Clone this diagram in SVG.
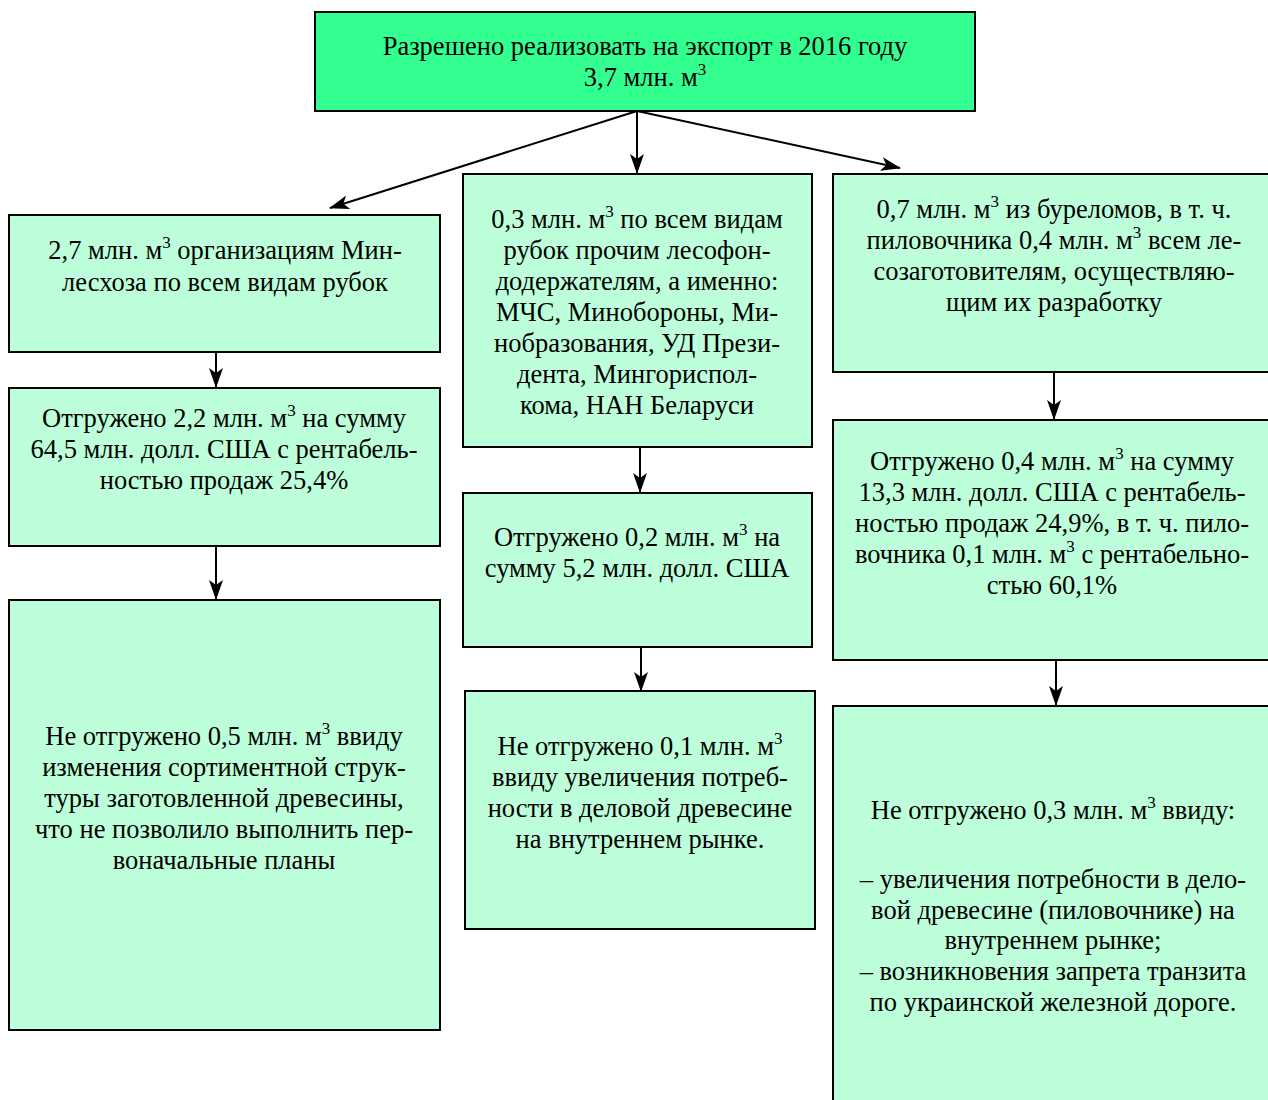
<svg xmlns="http://www.w3.org/2000/svg" width="1268" height="1100" viewBox="0 0 1268 1100">
<style>
.box{fill:#BCFFDA;stroke:#000;stroke-width:2}
.top{fill:#33FF90;stroke:#000;stroke-width:2}
.con{stroke:#000;stroke-width:2;fill:none;marker-end:url(#ah)}
</style>
<defs>
<marker id="ah" markerWidth="20" markerHeight="14" refX="19" refY="7" orient="auto" markerUnits="userSpaceOnUse">
<path d="M0,0 L20,7 L0,14 L5,7 z" fill="#000"/>
</marker>
</defs>
<rect width="1268" height="1100" fill="#fff"/>
<g id="connectors">
<line class="con" x1="637" y1="111" x2="330" y2="208"/>
<line class="con" x1="637" y1="111" x2="637" y2="173"/>
<line class="con" x1="637" y1="111" x2="900" y2="168"/>
<line class="con" x1="216" y1="352" x2="216" y2="387"/>
<line class="con" x1="216" y1="546" x2="216" y2="599"/>
<line class="con" x1="640" y1="447" x2="640" y2="492"/>
<line class="con" x1="641" y1="647" x2="641" y2="691"/>
<line class="con" x1="1054" y1="372" x2="1054" y2="419"/>
<line class="con" x1="1056" y1="660" x2="1056" y2="705"/>
</g>
<g id="top">
<rect class="top" x="315" y="12" width="660" height="99"/>
<text font-family="Liberation Serif, serif" font-size="26.5" text-anchor="middle" x="645" y="55">Разрешено реализовать на экспорт в 2016 году</text>
<text font-family="Liberation Serif, serif" font-size="26.5" text-anchor="middle" x="645" y="86">3,7 млн. м<tspan font-size="17" dy="-11">3</tspan></text>
</g>
<g id="left1">
<rect class="box" x="9" y="215" width="431" height="137"/>
<text font-family="Liberation Serif, serif" font-size="26.5" text-anchor="middle" x="225" y="259">2,7 млн. м<tspan font-size="17" dy="-11">3</tspan><tspan dy="11"> организациям Мин-</tspan></text>
<text font-family="Liberation Serif, serif" font-size="26.5" text-anchor="middle" x="225" y="291">лесхоза по всем видам рубок</text>
</g>
<g id="left2">
<rect class="box" x="9" y="388" width="431" height="158"/>
<text font-family="Liberation Serif, serif" font-size="26.5" text-anchor="middle" x="224" y="427">Отгружено 2,2 млн. м<tspan font-size="17" dy="-11">3</tspan><tspan dy="11"> на сумму</tspan></text>
<text font-family="Liberation Serif, serif" font-size="26.5" text-anchor="middle" x="224" y="458">64,5 млн. долл. США с рентабель-</text>
<text font-family="Liberation Serif, serif" font-size="26.5" text-anchor="middle" x="224" y="489">ностью продаж 25,4%</text>
</g>
<g id="left3">
<rect class="box" x="9" y="600" width="431" height="430"/>
<text font-family="Liberation Serif, serif" font-size="26.5" text-anchor="middle" x="224" y="745">Не отгружено 0,5 млн. м<tspan font-size="17" dy="-11">3</tspan><tspan dy="11"> ввиду</tspan></text>
<text font-family="Liberation Serif, serif" font-size="26.5" text-anchor="middle" x="224" y="776">изменения сортиментной струк-</text>
<text font-family="Liberation Serif, serif" font-size="26.5" text-anchor="middle" x="224" y="807">туры заготовленной древесины,</text>
<text font-family="Liberation Serif, serif" font-size="26.5" text-anchor="middle" x="224" y="838">что не позволило выполнить пер-</text>
<text font-family="Liberation Serif, serif" font-size="26.5" text-anchor="middle" x="224" y="869">воначальные планы</text>
</g>
<g id="mid1">
<rect class="box" x="463" y="174" width="349" height="273"/>
<text font-family="Liberation Serif, serif" font-size="26.5" text-anchor="middle" x="637" y="228">0,3 млн. м<tspan font-size="17" dy="-11">3</tspan><tspan dy="11"> по всем видам</tspan></text>
<text font-family="Liberation Serif, serif" font-size="26.5" text-anchor="middle" x="637" y="259">рубок прочим лесофон-</text>
<text font-family="Liberation Serif, serif" font-size="26.5" text-anchor="middle" x="637" y="290">додержателям, а именно:</text>
<text font-family="Liberation Serif, serif" font-size="26.5" text-anchor="middle" x="637" y="321">МЧС, Минобороны, Ми-</text>
<text font-family="Liberation Serif, serif" font-size="26.5" text-anchor="middle" x="637" y="352">нобразования, УД Прези-</text>
<text font-family="Liberation Serif, serif" font-size="26.5" text-anchor="middle" x="637" y="383">дента, Мингориспол-</text>
<text font-family="Liberation Serif, serif" font-size="26.5" text-anchor="middle" x="637" y="414">кома, НАН Беларуси</text>
</g>
<g id="mid2">
<rect class="box" x="463" y="493" width="349" height="154"/>
<text font-family="Liberation Serif, serif" font-size="26.5" text-anchor="middle" x="637" y="546">Отгружено 0,2 млн. м<tspan font-size="17" dy="-11">3</tspan><tspan dy="11"> на</tspan></text>
<text font-family="Liberation Serif, serif" font-size="26.5" text-anchor="middle" x="637" y="577">сумму 5,2 млн. долл. США</text>
</g>
<g id="mid3">
<rect class="box" x="465" y="691" width="350" height="238"/>
<text font-family="Liberation Serif, serif" font-size="26.5" text-anchor="middle" x="640" y="755">Не отгружено 0,1 млн. м<tspan font-size="17" dy="-11">3</tspan></text>
<text font-family="Liberation Serif, serif" font-size="26.5" text-anchor="middle" x="640" y="786">ввиду увеличения потреб-</text>
<text font-family="Liberation Serif, serif" font-size="26.5" text-anchor="middle" x="640" y="817">ности в деловой древесине</text>
<text font-family="Liberation Serif, serif" font-size="26.5" text-anchor="middle" x="640" y="848">на внутреннем рынке.</text>
</g>
<g id="right1">
<rect class="box" x="833" y="174" width="440" height="198"/>
<text font-family="Liberation Serif, serif" font-size="26.5" text-anchor="middle" x="1054" y="218">0,7 млн. м<tspan font-size="17" dy="-11">3</tspan><tspan dy="11"> из буреломов, в т. ч.</tspan></text>
<text font-family="Liberation Serif, serif" font-size="26.5" text-anchor="middle" x="1054" y="249">пиловочника 0,4 млн. м<tspan font-size="17" dy="-11">3</tspan><tspan dy="11"> всем ле-</tspan></text>
<text font-family="Liberation Serif, serif" font-size="26.5" text-anchor="middle" x="1054" y="280">созаготовителям, осуществляю-</text>
<text font-family="Liberation Serif, serif" font-size="26.5" text-anchor="middle" x="1054" y="311">щим их разработку</text>
</g>
<g id="right2">
<rect class="box" x="833" y="420" width="440" height="240"/>
<text font-family="Liberation Serif, serif" font-size="26.5" text-anchor="middle" x="1052" y="470">Отгружено 0,4 млн. м<tspan font-size="17" dy="-11">3</tspan><tspan dy="11"> на сумму</tspan></text>
<text font-family="Liberation Serif, serif" font-size="26.5" text-anchor="middle" x="1052" y="501">13,3 млн. долл. США с рентабель-</text>
<text font-family="Liberation Serif, serif" font-size="26.5" text-anchor="middle" x="1052" y="532">ностью продаж 24,9%, в т. ч. пило-</text>
<text font-family="Liberation Serif, serif" font-size="26.5" text-anchor="middle" x="1052" y="563">вочника 0,1 млн. м<tspan font-size="17" dy="-11">3</tspan><tspan dy="11"> с рентабельно-</tspan></text>
<text font-family="Liberation Serif, serif" font-size="26.5" text-anchor="middle" x="1052" y="594">стью 60,1%</text>
</g>
<g id="right3">
<rect class="box" x="833" y="706" width="440" height="400"/>
<text font-family="Liberation Serif, serif" font-size="26.5" text-anchor="middle" x="1053" y="819">Не отгружено 0,3 млн. м<tspan font-size="17" dy="-11">3</tspan><tspan dy="11"> ввиду:</tspan></text>
<text font-family="Liberation Serif, serif" font-size="26.5" text-anchor="middle" x="1053" y="888">– увеличения потребности в дело-</text>
<text font-family="Liberation Serif, serif" font-size="26.5" text-anchor="middle" x="1053" y="919">вой древесине (пиловочнике) на</text>
<text font-family="Liberation Serif, serif" font-size="26.5" text-anchor="middle" x="1053" y="949">внутреннем рынке;</text>
<text font-family="Liberation Serif, serif" font-size="26.5" text-anchor="middle" x="1053" y="980">– возникновения запрета транзита</text>
<text font-family="Liberation Serif, serif" font-size="26.5" text-anchor="middle" x="1053" y="1011">по украинской железной дороге.</text>
</g>
</svg>
